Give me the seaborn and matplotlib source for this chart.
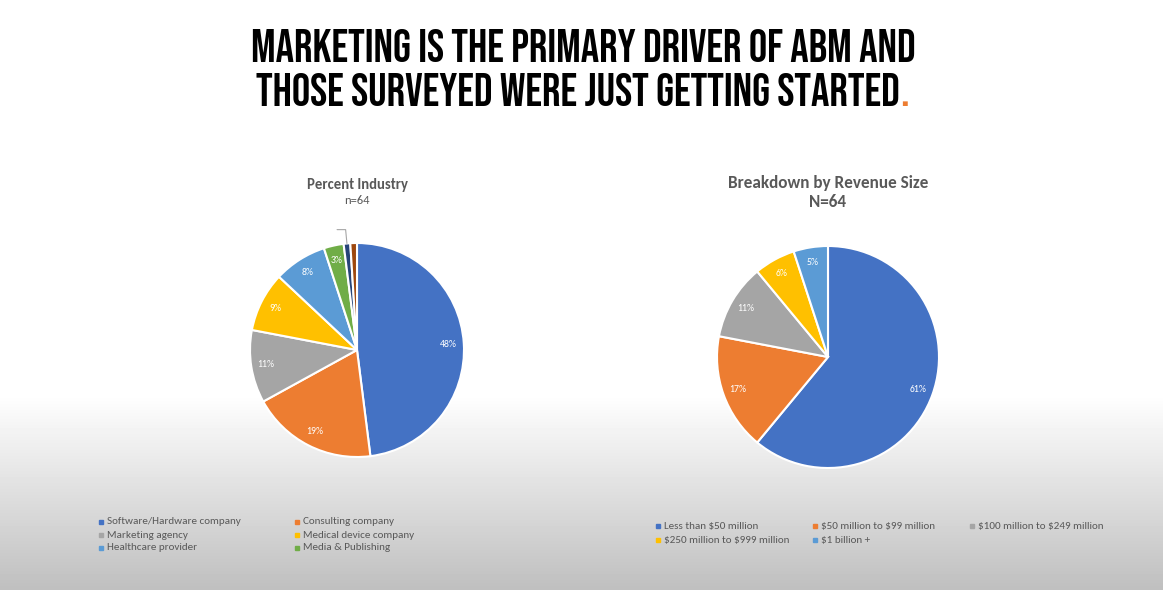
import numpy as np
import matplotlib
matplotlib.use('Agg')
import matplotlib.pyplot as plt
import seaborn as sns

sns.set_style('white')
plt.rcParams['font.family'] = ['Carlito', 'Open Sans', 'DejaVu Sans']

# data
industry_labels = ['Software/Hardware company', 'Consulting company', 'Marketing agency',
                   'Medical device company', 'Healthcare provider', 'Media & Publishing']
industry_pct = [48, 19, 11, 9, 8, 3, 1, 1]
industry_shown = ['48%', '19%', '11%', '9%', '8%', '3%', '', '']

revenue_labels = ['Less than $50 million', '$50 million to $99 million', '$100 million to $249 million',
                  '$250 million to $999 million', '$1 billion +']
revenue_pct = [61, 17, 11, 6, 5]

office = ['#4472C4', '#ED7D31', '#A5A5A5', '#FFC000', '#5B9BD5', '#70AD47', '#264478', '#9E480E']
palette = sns.color_palette(office)

W, H = 1163, 590
fig = plt.figure(figsize=(W / 100, H / 100), dpi=100)

# background: white fading to gray at the bottom
bg = fig.add_axes([0, 0, 1, 1], zorder=-10)
rows = np.linspace(0, 1, H)
shade = np.where(rows < 395 / H, 1.0, 1.0 - 0.25 * ((rows - 395 / H) / (1 - 395 / H)))
bg.imshow(np.repeat(shade[:, None], 4, axis=1), cmap='gray', vmin=0, vmax=1,
          aspect='auto', extent=[0, W, H, 0])
bg.set_axis_off()

# overlay in pixel coordinates for text and legends
ov = fig.add_axes([0, 0, 1, 1], zorder=5)
ov.set_xlim(0, W)
ov.set_ylim(H, 0)
ov.set_axis_off()
ov.patch.set_alpha(0)

title_family = ['Bebas Neue', 'League Gothic', 'Oswald', 'Barlow Condensed', 'Asap Condensed', 'DejaVu Sans']
title_font = dict(family=title_family, fontsize=33, color='black', ha='center', va='center')
ov.text(583, 46, 'MARKETING IS THE PRIMARY DRIVER OF ABM AND', **title_font)
t2 = ov.text(578, 89, 'THOSE SURVEYED WERE JUST GETTING STARTED', **title_font)
ov.annotate('.', xy=(1, 0), xycoords=t2, va='bottom', ha='left',
            fontsize=33, color='#ED7D31', family=title_family)


def pie_axes(cx, cy, r):
    side = 2.5 * r
    ax = fig.add_axes([(cx - side / 2) / W, (H - cy - side / 2) / H, side / W, side / H])
    return ax


# left pie
ax1 = pie_axes(357, 350, 107)
w1, _ = ax1.pie(industry_pct, colors=palette, startangle=90, counterclock=False,
                wedgeprops=dict(edgecolor='white', linewidth=1.5))
for wedge, lab in zip(w1, industry_shown):
    ang = np.deg2rad((wedge.theta1 + wedge.theta2) / 2)
    ax1.text(0.86 * np.cos(ang), 0.86 * np.sin(ang), lab, color='white',
             fontsize=7, ha='center', va='center')
ax1.set_xlim(-1.25, 1.25)
ax1.set_ylim(-1.25, 1.25)
# leader line for the tiny slice
small = w1[6]
ang = np.deg2rad((small.theta1 + small.theta2) / 2)
ax1.plot([np.cos(ang) * 1.0, np.cos(ang) * 1.13, np.cos(ang) * 1.13 - 0.08],
         [np.sin(ang) * 1.0, np.sin(ang) * 1.13, np.sin(ang) * 1.13],
         color='#a6a6a6', lw=0.8)

# right pie
ax2 = pie_axes(828, 357, 111)
ax2.pie(revenue_pct, colors=palette[:5], startangle=90, counterclock=False,
        autopct='%d%%', pctdistance=0.86,
        textprops=dict(color='white', fontsize=7),
        wedgeprops=dict(edgecolor='white', linewidth=1.5))
ax2.set_xlim(-1.25, 1.25)
ax2.set_ylim(-1.25, 1.25)

# chart titles
ov.text(357, 185, 'Percent Industry', fontsize=10.5, color='#595959', ha='center', va='center', fontweight='bold')
ov.text(357, 201, 'n=64', fontsize=9, color='#595959', ha='center', va='center')
ov.text(828, 183, 'Breakdown by Revenue Size', fontsize=12.3, color='#595959', ha='center', va='center', fontweight='bold')
ov.text(828, 202, 'N=64', fontsize=12.3, color='#595959', ha='center', va='center', fontweight='bold')


def legend(labels, colors, x0, y0, colw, rowh, ncol):
    for i, (lab, c) in enumerate(zip(labels, colors)):
        x = x0 + (i % ncol) * colw
        y = y0 + (i // ncol) * rowh
        ov.plot(x, y, marker='s', ms=2.5, color=c, mec=c)
        ov.text(x + 6, y, lab, fontsize=8, color='#595959', ha='left', va='center',
                parse_math=False)


legend(industry_labels, palette[:6], 101, 522, 196, 13, 2)
legend(revenue_labels, palette[:5], 658, 526, 157, 14, 3)

fig.savefig('out.png', dpi=100)
